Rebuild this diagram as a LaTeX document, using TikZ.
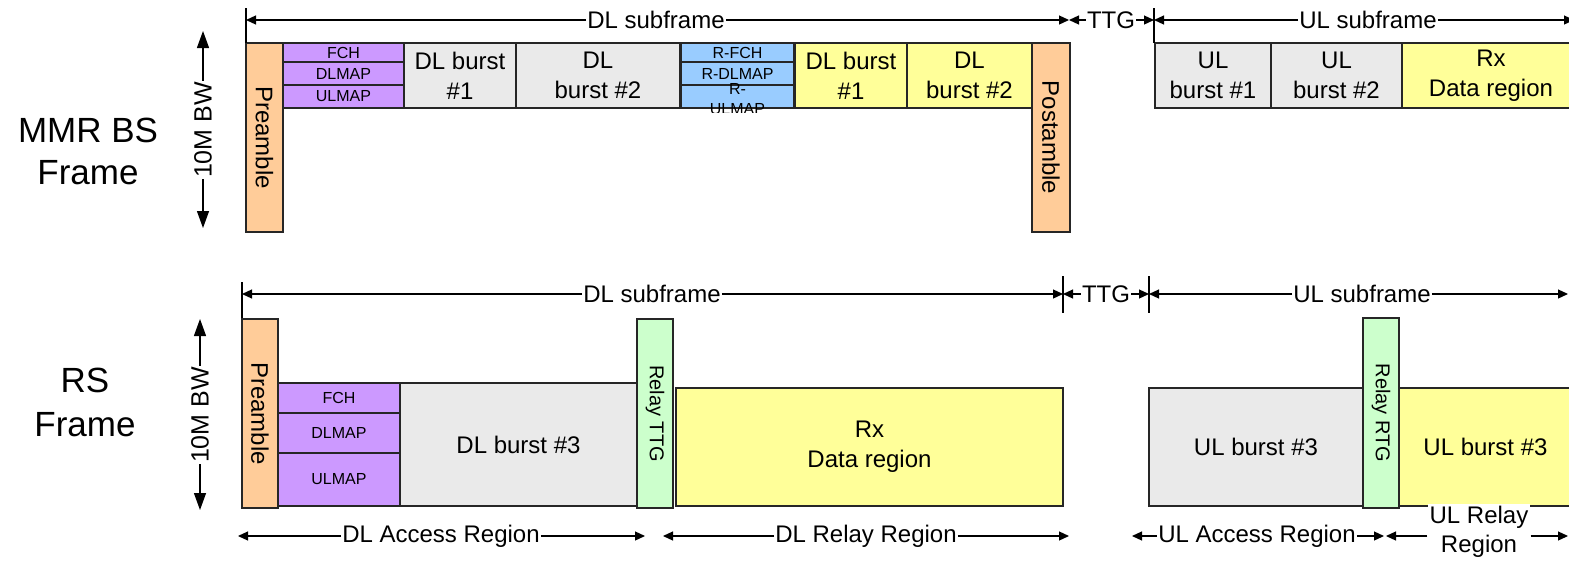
\documentclass[tikz,border=0pt]{standalone}
\usepackage{fontspec}
\setmainfont{Liberation Sans}
\usetikzlibrary{arrows.meta}
\definecolor{cOr}{HTML}{FFCC99}
\definecolor{cPu}{HTML}{CC99FF}
\definecolor{cGr}{HTML}{EAEAEA}
\definecolor{cBl}{HTML}{99CCFF}
\definecolor{cYe}{HTML}{FFFF99}
\definecolor{cGn}{HTML}{CCFFCC}
\newcommand\fsz[2]{\fontsize{#1}{#2}\selectfont}
\newcommand\mkbox[8]{%
  \node[box,fill=#2,font=#3,minimum width={#6-#4},minimum height={#7-#5}] (#1) at (#4,#5) {#8};}
\tikzset{
  box/.style={draw=black!85, line width=1.5pt, inner sep=0pt, outer sep=0pt, anchor=north west, align=center},
  arr/.style={-{Triangle[length=10pt,width=9pt]}, line width=1.2pt},
  bigarr/.style={-{Triangle[length=17pt,width=12pt]}, line width=1.3pt},
  tick/.style={line width=1.2pt},
  lbl/.style={inner sep=1pt, font=\fsz{24}{29}, align=center},
  rot/.style={inner sep=0pt, font=\fsz{24}{29}},
}
\begin{document}
\begin{tikzpicture}[x=1pt,y=-1pt]
\clip (0,0) rectangle (1569,560);
\fill[white] (0,0) rectangle (1569,560);

% ---------- MMR BS frame ----------
\node[lbl, font=\fsz{35}{42}] (mmr) at (88,151) {MMR BS\\Frame};
\node[lbl, rotate=90, fill=white, font=\fsz{25}{29}] (bw1) at (203,130) {10M BW};
\coordinate (bw1t) at (203,31);
\coordinate (bw1b) at (203,228);
\draw[bigarr] (bw1.east) -- (bw1t);
\draw[bigarr] (bw1.west) -- (bw1b);

\mkbox{pre1}{cOr}{\fsz{24}{29}}{246}{43}{283}{232}{}
\mkbox{fch1}{cPu}{\fsz{16}{18}}{283}{43}{404}{62}{FCH}
\mkbox{dlm1}{cPu}{\fsz{16}{18}}{283}{62}{404}{85}{DLMAP}
\mkbox{ulm1}{cPu}{\fsz{16}{18}}{283}{85}{404}{108}{ULMAP}
\mkbox{dlb1}{cGr}{\fsz{24}{30}}{404}{43}{516}{108}{DL burst\\\#1}
\mkbox{dlb2}{cGr}{\fsz{24}{30}}{516}{43}{680}{108}{DL\\burst \#2}
\mkbox{rfch}{cBl}{\fsz{16}{18}}{681}{43}{794}{62}{R-FCH}
\mkbox{rdlm}{cBl}{\fsz{16}{18}}{681}{62}{794}{85}{R-DLMAP}
\mkbox{rulm}{cBl}{\fsz{16}{18}}{681}{85}{794}{108}{}
\mkbox{ydl1}{cYe}{\fsz{24}{30}}{795}{43}{907}{108}{DL burst\\\#1}
\mkbox{ydl2}{cYe}{\fsz{24}{30}}{907}{43}{1032}{108}{DL\\burst \#2}
\mkbox{post1}{cOr}{\fsz{24}{29}}{1032}{43}{1070}{232}{}
\mkbox{ulb1}{cGr}{\fsz{24}{30}}{1155}{43}{1271}{108}{UL\\burst \#1}
\mkbox{ulb2}{cGr}{\fsz{24}{30}}{1271}{43}{1402}{108}{UL\\burst \#2}
\mkbox{rx1}{cYe}{\fsz{24}{30}}{1402}{43}{1580}{108}{Rx\\Data region}
\node[rot, rotate=-90] (pre1t) at (pre1.center) {Preamble};
\node[rot, rotate=-90] (post1t) at (post1.center) {Postamble};
\begin{scope}
  \clip (681,40) rectangle (794,112);
  \node[inner sep=0pt, font=\fsz{16}{20}, align=center] (rulmt) at (737.5,99) {R-\\ULMAP};
\end{scope}

% dimension lines top
\draw[tick] (246,8) -- (246,43);
\draw[tick] (1154,8) -- (1154,43);
\coordinate (a1) at (246,20);
\coordinate (a2) at (1069,20);
\coordinate (a3) at (1154,20);
\coordinate (a4) at (1574,20);
\node[lbl] (dls1) at (656,20) {DL subframe};
\node[lbl] (ttg1) at (1111,20) {TTG};
\node[lbl] (uls1) at (1368,20) {UL subframe};
\draw[arr] (dls1) -- (a1);
\draw[arr] (dls1) -- (a2);
\draw[arr] (ttg1) -- (a2);
\draw[arr] (ttg1) -- (a3);
\draw[arr] (uls1) -- (a3);
\draw[arr] (uls1) -- (a4);

% ---------- RS frame ----------
\node[lbl, font=\fsz{35}{44}] (rsf) at (85,402) {RS\\Frame};
\node[lbl, rotate=90, fill=white, font=\fsz{25}{29}] (bw2) at (200,415) {10M BW};
\coordinate (bw2t) at (200,319);
\coordinate (bw2b) at (200,510);
\draw[bigarr] (bw2.east) -- (bw2t);
\draw[bigarr] (bw2.west) -- (bw2b);

\mkbox{pre2}{cOr}{\fsz{24}{29}}{242}{319}{278}{508}{}
\mkbox{fch2}{cPu}{\fsz{16}{18}}{278}{383}{400}{413}{FCH}
\mkbox{dlm2}{cPu}{\fsz{16}{18}}{278}{413}{400}{453}{DLMAP}
\mkbox{ulm2}{cPu}{\fsz{16}{18}}{278}{453}{400}{506}{ULMAP}
\mkbox{dlb3}{cGr}{\fsz{24}{30}}{400}{383}{637}{506}{DL burst \#3}
\mkbox{rttg}{cGn}{\fsz{20}{24}}{637}{319}{673}{508}{}
\mkbox{rx2}{cYe}{\fsz{24}{30}}{676}{388}{1063}{506}{Rx\\Data region}
\mkbox{ulb3}{cGr}{\fsz{24}{30}}{1149}{388}{1363}{506}{UL burst \#3}
\mkbox{ulb3y}{cYe}{\fsz{24}{30}}{1399}{388}{1580}{506}{\hspace*{-8pt}UL burst \#3}
\mkbox{rrtg}{cGn}{\fsz{20}{24}}{1363}{318}{1399}{508}{}
\node[rot, rotate=-90] (pre2t) at (pre2.center) {Preamble};
\node[rot, rotate=-90, font=\fsz{20}{24}] (rttgt) at (rttg.center) {Relay TTG};
\node[rot, rotate=-90, font=\fsz{20}{24}] (rrtgt) at (rrtg.center) {Relay RTG};

% dimension lines bottom
\draw[tick] (242,282) -- (242,318);
\draw[tick] (1063,276) -- (1063,313);
\draw[tick] (1149,276) -- (1149,313);
\coordinate (b1) at (242,294);
\coordinate (b2) at (1063,294);
\coordinate (b3) at (1149,294);
\coordinate (b4) at (1568,294);
\node[lbl] (dls2) at (652,294) {DL subframe};
\node[lbl] (ttg2) at (1106,294) {TTG};
\node[lbl] (uls2) at (1362,294) {UL subframe};
\draw[arr] (dls2) -- (b1);
\draw[arr] (dls2) -- (b2);
\draw[arr] (ttg2) -- (b2);
\draw[arr] (ttg2) -- (b3);
\draw[arr] (uls2) -- (b3);
\draw[arr] (uls2) -- (b4);

% region arrows
\coordinate (r1) at (238,536);
\coordinate (r2) at (645,536);
\coordinate (r3) at (663,536);
\coordinate (r4) at (1069,536);
\coordinate (r5) at (1132,536);
\coordinate (r6) at (1384,536);
\coordinate (r7) at (1386,536);
\coordinate (r8) at (1568,536);
\node[lbl] (dla) at (441,536) {DL Access Region};
\node[lbl] (dlr) at (866,536) {DL Relay Region};
\node[lbl] (ula) at (1257,536) {UL Access Region};
\node[lbl, fill=white, inner sep=2pt] (ulr) at (1479,532) {UL Relay\\Region};
\draw[arr] (dla) -- (r1);
\draw[arr] (dla) -- (r2);
\draw[arr] (dlr) -- (r3);
\draw[arr] (dlr) -- (r4);
\draw[arr] (ula) -- (r5);
\draw[arr] (ula) -- (r6);
\draw[arr] (ulr.west |- r7) -- (r7);
\draw[arr] (ulr.east |- r8) -- (r8);
\end{tikzpicture}
\end{document}
